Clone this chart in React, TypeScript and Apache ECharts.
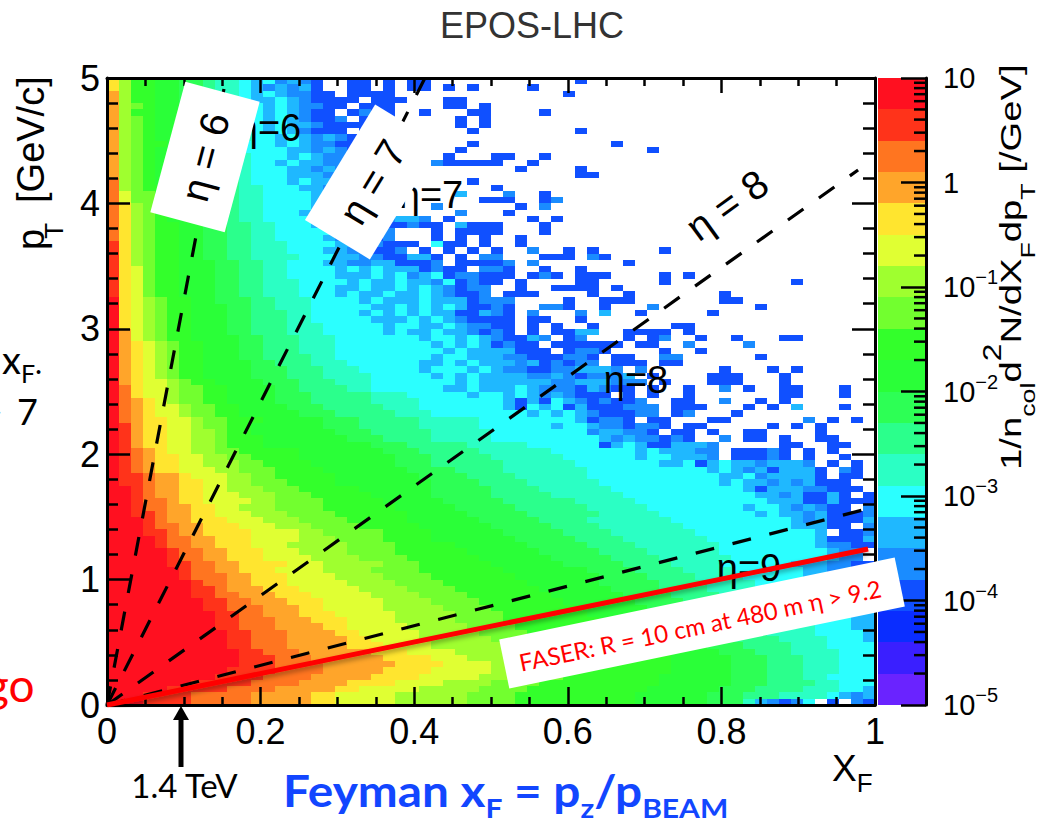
import React, { useEffect, useRef } from "react";
import * as echarts from "echarts";

// Colour-band palette, lowest band (a) to highest band (t); each band spans 0.3 decades.
const LEVELS = "abcdefghijklmnopqrst";
const LEVEL_COLORS = ["#6a23ff","#3a1fff","#0a2dff","#1050ff","#1a8cff","#1fb8ff","#2bffff","#2bffc4","#2bff8c","#2dff55","#2aff38","#33ff2b","#72ff2f","#9fff2f","#e0ff33","#ffe52f","#ffa52a","#ff7520","#ff331a","#ff1020"];

// Histogram, top row (pT just below 5) to bottom row; one letter per xF bin, "." = empty bin.
const HIST_ROWS = [
"pnllkkjj ihhgfgef ed..dd.d .dd..... .......d",
"pnllkkjj ihhgfefe fd..dd.d .dd.d.d. ...d....",
"qnllkkjj ihhgfgfe edd.dddd ........ ......d.",
"qnllkkjj ihhgffgf edddd.dd d...dd..",
"qnmlkkjj ihhggfgf eedd.ddd ....dd.d",
"qnllkkjj ihhggfgf edd.dedd ..d...dd ....d...",
"qnmlkkjj iihggfgf edde.ddd .....d.d",
"qnmlkkjj ihhggfgf fedddd.d .....d.d",
"qnmlkkjj iihggfgf eddd.dd. ......d. .......d",
"qnmlkkjj iihhggfg fefedd.d",
"qnmllkjj iihgggfg feeddddd ......d. ........ ..d.....",
"qnmlkkjj iihggggf fefedd.d .....d.. ........ .....d..",
"qnmlkkjj iihhgggf gfeedddd ....d... dd..d...",
"qnmlkkjj iihhggfg ffeedd.d ...edddd d..d....",
"qnmlkkjj iihhgggf fefeeddd ........ ..d....d",
"qnmlkkkj jiihgggf ffeeddd. d....... .......d d.......",
"rnmlkkkj jiihgggf gffeddd. ......d.",
"rnmllkkj jiihhggg ffeedddd ........ d.......",
"rommllkj jiihhggg gffeeddd .....f.. .e..d...",
"rommlkkj jiihhggg gffeeddd .......d dd..de..",
"rpnmlkkj jiihhggg gfefddd. ...e.... ..d.e...",
"rpnmlkkj jiihhggg ffeeddde .....e.. .d......",
"rpnmlkkj jiihhggg gfeeefde ffe.d... ...d.d..",
"rpnmllkk jjiihhgg gfefdeed dedd.fdd d...d...",
"rpnmllkk jjiihhgg gggfedde ...d.ddd d...d...",
"rpnmllkk jjiihhgg ggfefede ...d.d.d ..d.....",
"spnmllkk jjiihhhg gggffeed dd.gdd.d ..d.....",
"spnmllkk jjiihhhg ggffeedd e.d.d.d. d..e..d. d.....d.",
"spnmllkk jjiihhhh gggffeed dffd.d.e e...ddd. ed......",
"spnmllkk kjjiihhg ggffeeff ddde.ddd de.e.... ...d....",
"spomllkk kjjiihhg gggfgfgf ffdedd.e ed..d..d",
"spomllkk kjjiihhg gggfffgf gefgdeed dd.ded.d dd....d. d.......",
"spomllkk kjjiihhh ggggfgff gffegded d.d....d d.....d. ........ .d......",
"spomllkk kjjiihhh gggffgff gfgfedee ..d..ddd d.d.....",
"spomllkk kjjiihhh gggfgffg ffgfedde .ddd.... d..d.... ...d....",
"tponmllk kjjjiihh hggggfgf ffgfffde ee....d. .ddd.... ...dd...",
"tponmllk kkjjiihh hgggggff gfgfgfdd ed..eed. .d...e.. ......d.",
"tponmllk kkjjiiih hggggfgf gfgffddf ed.e...e .f..d... ..d.....",
"tponmllk kkjjiiih hgggggff fgfgfedd dd.dd..d",
"tponmllk kkjjiiih hhgggggf ggffgfee dd.d.d.. d......d d.......",
"tqonmllk kkjjiiih hhgggggf gffgffed ed.d.ddf f..dddd. d.......",
"tqonmllk kkkjjiii hhhggggg ggfggfgf eddfe.de ...d.de. .d..d... dd......",
"tqponmll kkkjjiii hhhggggg gggfgfgf dedd.ddd ddd.dd.. e....e..",
"tqponmll kkkjjiii hhhggggg ggggfgff ffddd.de ed....d. .d......",
"tqponmll kkkjjiii ihhggggg gggfggff feedddee d.dd..ee ......d.",
"tqponmll kkkkjjii ihhhgggg ggffgfgf ffefdede e.ddd.dd",
"tqponmll kkkkjjji iihhhggg ggfgggfg feeddeef ffe.e... ...d...d .d......",
"tqponmll kkkkjjji iihhhhgg gggfgfgf fffeefed eeef.d.. ..ddd... d.......",
"tqpoonml lkkkkjjj iiihhhgg gggggfgf fffffeef ffeee.d. ..ddd... d.......",
"trpoonmm llkkkkjj iiiihhgg ggggffgf ffgfeeed fedd.d.. d..e.d.. dd...d..",
"trpoonmm llkkkkjj jiiiiihh hgggggfg gfgfefed dd.d.d.. d....... dd...d..",
"trqponmm llkkkkjj jiiiiihh hhgggggg gfdfdgfe dedde..d d..e..d. d.......",
"trqpoonm mllkkkkj jjiiiiih hhgggggg gfdgfgdf dddeee.d dd...d.d .f...d..",
"trqpoonm mllkkkkk jjjiiiii hhhggggg gggfgfgf edddee.d e...d...",
"trqppoon mmlllkkk kkjjjiii iihhhhhg gggggggf deed.dd. ..dd.... ..e.d.d.",
"tsqppoon mmllkkkk kkjjjiii iihhhhhg gggggfgg feedeed. dd.....d .d.d....",
"tsqppoon nmllkkkk kkkjjjii iiihhhhh gggggggg effeed.d d.d..dd. ...d....",
"tsqppoon nmlllkkk kkkkjjji iiihhhhh gggggggg gfefeede d..e.dd. d..dd...",
"tsqppoon nmlllkkk kkkkkkjj jiiiiihh hhhggggg gdfgfddf ffe..... dd..dd..",
"tsrqpoon nmmlllll kkkkkkkj jjiiiiih hhhhhggg ggggfgff fee.ddde d.d.d...",
"tsrqppoo nnmmllll kkkkkkkk jjjiiiii hhhhhhgg ggggfggf ffe.ddde d.d..d..",
"tsrqppoo nnnmmlll lkkkkkkk jjjiiiii ihhhhhhg ggggggff gdfgffef ffe.d.d.",
"tsrqppoo onnmmmll llkkkkkk kjjjjiii ihhhhhhh gggggggg ggfgfefd fffd.ed.",
"tssrqqpo oonnmmll lllkkkkk kkjjjjii iihhhhhh gggggggg gggffgef fffd.dd.",
"tssrqqpp oonnmmml lllkkkkk kkkjjjji iiihhhhh hggggggg gggfgffe fefddd..",
"ttsrqqpp oonnnmmm lllllkkk kkkjjjjj iiiihhhh hhgggggg gggggfdf ffeeddd.",
"ttsrqqpp ooonnnmm mlllllkk kkkjjjjj iiiiihhh hhhggggg ggggggff efddfd.d",
"ttsrrqpp oooonnmm mmlllllk kkkkjjjj jiiiiiih hhhhgggg gggggggf ffddfddd",
"ttsrrqqp poonnnmm mmllllll kkkkkjjj jjiiiiii hhhhhggg gggggfgg fefedd.e",
"ttssrqqp pooonnnm mmmlllll lkkkkkjj jjjiiiii ihhhhhgg ggggggfg ffefddde",
"tttsrqqp ppooonnn mmmmllll lkkkkkkj jjjjiiii hhhhhhhg gggggggg gfefdddf",
"tttsrrqq pppooonn nmmmmlll llkkkkkk jjjjjiii ihhhhhhh gggggggg gfffdd.e",
"tttssrqq ppppoooo nnmmmmml lllkkkkk kjjjjjii iihhhhhh hggggggg gggf.dde",
"ttttsrrq qpppoooo nnnmmmml lllkkkkk kkjjjjji iiihhhhh hhgggggg gggfdddf",
"ttttsrrq qpppooon nnnnmmmm lllllkkk kkkjjjjj iiiihhhh hhhggggg gggfeedd",
"tttttsrr qqpppooo nnnnmmmm llllllkk kkkkjjjj jiiiihhh hhhggggg ggggfee.",
"tttttsrr qqpppooo onnnnmmm mllllllk kkkkkjjj jjiiiihh hhhhgggg ggggfee.",
"tttttssr rqqppppo oonnnnnm mmllllll kkkkkkjj jjjiiiih hhhggggg gfffeedd",
"ttttttsr rqqpppoo oonnnnmm mmllllll lkkkkkkk jjjjiiii hhhhgggg ggffeedd",
"ttttttsr rrqqpppo ooonnnnm mmmlllll llkkkkkk kjjjjiii ihhhhggg ggffeedd",
"ttttttts rrqqpppo oooonnnn mmmmllll lllkkkkk kjjjjjii iihhhhgg gggffeed",
"ttttttts srqqqppp ooooonnn nmmmmlll llllkkkk kkjjjjii iihhhhgg ggggfeed",
"ttttttts srrqqqpp pooooonn nnmmmmll lllllkkk kkkjjjji iiihhhhg ggggffee",
"tttttttt ssrrqqqp ppooooon nnnmmmml llllllkk kkkkjjjj iiiihhhh gggggffe",
"tttttttt ssrrrqqq ppooooon nnnnmmmm lllllllk kkkkkjjj jiiiihhh hggggffe",
"tttttttt tssrrqqq pppooooo nnnnnmmm mlllllll kkkkkkjj jjiiiihh hhggggff",
"tttttttt tssrrrqq qpppoooo nnnnnmmm mlllllll lkkkkkjj jjiiiihh hhggggff",
"tttttttt tssrrrqq qqppoooo onnnnnmm mmllllll llkkkkkj jjjiiiih hhhgggff",
"tttttttt ttssrrrq qqqppooo oonnnnnm mmmlllll lllkkkkk jjjiiiih hhhggggf",
"tttttttt ttssrrrq qqqqppoo oonnnnnn mmmmllll lllllkkk kjjjiiii hhhhgggf",
"tttttttt ttssrrrq qqqqpppo ooonnnnn nmmmmlll llllllkk kkjjjiii ihhhgggg",
"tttttttt tttssrrr qqqqqqpp poooonnn nnmmmlll llllllkk kkkjjjii ihhhhggg",
"tttttttt tttsssrr rqqqqqqp pppooonn nnnmmmll lllllllk kkkkjjji iihhhggg",
"tttttttt tttsssrr rrqqqqqq ppppoooo nnnmmmll lllllllk kkkkjjji iihhhggg",
"tttttttt ttssssrr rrqqqqqp pppooooo nnnmmmll lllllllk kkkkjjji iihhhggg",
"tttttttt tssssrrr rqqqqqpp ppooooon nnnmmmll llllllkk kkkkjjji iihhgggg",
"ttttttts ssssrrrr qqqqpppp oooonnnn mmmmllll llllllkk kkkkjjji iiihhggg",
"tttttsss ssrrrrqq qqqppooo oonnnnnm mmmlllll lllllkkk kkkjjjii iihhhggf",
"tttssssr rrrrqqqq qppooooo nnnnnnmm mmllllll llllkkkk kkjjjiii hhhhgfef",
"tttssssr rrrrqqqq qppooooo nnnnnnmm mmllllll llllkkkk kkjjjhfe deg.d.ed",
];

const N_COLS = 64;
const N_ROWS = 100;
const X_MAX = 1;
const Y_MAX = 5;

const ETA_6 = [[0, 0], [0.155, 5]];
const ETA_7 = [[0, 0], [0.414, 5]];
const ETA_8 = [[0, 0], [0.978, 4.266]];
const ETA_9 = [[0, 0], [1, 1.58]];
const FASER = [[0, 0], [0.991, 1.244]];

const BAR_DECADES = [-5, -4, -3, -2, -1, 0];
const BAR_MULTIPLES = [2, 3, 4, 5, 6, 7, 8, 9];

const HELV = '"Liberation Sans", Arial, sans-serif';
const SLIDE = 'Lato, "Noto Sans", sans-serif';

const cellW = X_MAX / N_COLS;
const cellH = Y_MAX / N_ROWS;

const histData: number[][] = [];
HIST_ROWS.forEach((row, r) => {
  const cells = row.replace(/ /g, "").padEnd(N_COLS, ".");
  for (let c = 0; c < N_COLS; c++) {
    const lvl = LEVELS.indexOf(cells[c]);
    if (lvl >= 0) histData.push([c * cellW, (HIST_ROWS.length - 1 - r) * cellH, lvl]);
  }
});

const barData = LEVEL_COLORS.map((_, i) => [-5 + 0.3 * i, i]);
const minorData: number[][] = [];
BAR_DECADES.forEach((d) => BAR_MULTIPLES.forEach((m) => minorData.push([d + Math.log10(m)])));

const ctx = document.createElement("canvas").getContext("2d")!;
type Piece = { t: string; size: number; dy?: number; dx?: number };
function flow(x: number, y: number, rotation: number, pieces: Piece[], fill: string, family: string, weight: string, z: number, scaleX = 1) {
  let cursor = 0;
  const children = pieces.map((p) => {
    ctx.font = `${weight} ${p.size}px ${family}`;
    cursor += p.dx || 0;
    const el = {
      type: "text", x: cursor, y: (p.dy || 0) - 0.3465 * p.size, z,
      style: { text: p.t, fontSize: p.size, fontFamily: family, fontWeight: weight, fill, align: "left", verticalAlign: "middle" },
    };
    cursor += ctx.measureText(p.t).width;
    return el;
  });
  return { type: "group", x, y, rotation, scaleX, z, children };
}
function box(cx: number, cy: number, w: number, h: number, deg: number) {
  return { type: "rect", x: cx, y: cy, rotation: (deg * Math.PI) / 180, z: 20, shape: { x: -w / 2, y: -h / 2, width: w, height: h }, style: { fill: "#fff" } };
}
function label(text: string, cx: number, cy: number, deg: number, size: number, z: number, fill = "#000", family = HELV, scaleX = 1) {
  return { type: "text", x: cx, y: cy, scaleX, rotation: (deg * Math.PI) / 180, z, style: { text, fontSize: size, fontFamily: family, fill, align: "center", verticalAlign: "middle" } };
}

function tickAxis(extra: any, major: number, minor: number, splits: number) {
  return {
    type: "value", z: 3, splitLine: { show: false },
    axisLine: { show: true, onZero: false, lineStyle: { color: "#000", width: 3 } },
    axisTick: { show: true, inside: true, length: major, lineStyle: { color: "#000", width: 2.5 } },
    minorTick: { show: true, splitNumber: splits, length: minor, lineStyle: { color: "#000", width: 2.5 } },
    ...extra,
  };
}

const dashed = (name: string, data: number[][]) => ({
  type: "line", name, data, z: 4, symbol: "none", silent: true, xAxisIndex: 0, yAxisIndex: 0,
  lineStyle: { color: "#000", width: 3.2, type: [19, 19] as any },
});

export default function App() {
  const ref = useRef<HTMLDivElement>(null);
  useEffect(() => {
    const chart = echarts.init(ref.current!, undefined, { renderer: "svg" });
    chart.setOption({
      animation: false,
      backgroundColor: "#fff",
      grid: [
        { left: 107, top: 78, width: 768, height: 627 },
        { left: 878, top: 78, width: 48, height: 627 },
      ],
      xAxis: [
        tickAxis({ gridIndex: 0, position: "bottom", min: 0, max: X_MAX, interval: 0.2,
          axisLabel: { show: true, fontSize: 36, fontFamily: HELV, color: "#000", margin: 8 } }, 18, 8, 4),
        tickAxis({ gridIndex: 0, position: "top", min: 0, max: X_MAX, interval: 0.2, axisLabel: { show: false } }, 15, 8, 4),
        { type: "value", gridIndex: 1, min: 0, max: 1, show: false },
      ],
      yAxis: [
        tickAxis({ gridIndex: 0, position: "left", min: 0, max: Y_MAX, interval: 1,
          axisLabel: { show: true, fontSize: 36, fontFamily: HELV, color: "#000", margin: 7 } }, 23, 11, 5),
        tickAxis({ gridIndex: 0, position: "right", min: 0, max: Y_MAX, interval: 1, axisLabel: { show: false } }, 23, 12, 5),
        {
          type: "value", gridIndex: 1, position: "right", min: -5, max: 1, interval: 1, z: 3,
          splitLine: { show: false },
          axisLine: { show: true, onZero: false, lineStyle: { color: "#000", width: 3 } },
          axisTick: { show: true, inside: true, length: 25, lineStyle: { color: "#000", width: 2.5 } },
          axisLabel: {
            show: true, margin: 17, align: "left",
            formatter: (v: number) => (v === 1 ? "{a|10}" : v === 0 ? "{a|1}" : `{a|10}{b|\u2212${-v}}`),
            rich: {
              a: { fontSize: 29, fontFamily: HELV, color: "#000", height: 40, lineHeight: 40, verticalAlign: "bottom", padding: [12, 0, 0, 0] },
              b: { fontSize: 20, fontFamily: HELV, color: "#000", verticalAlign: "top", padding: [0, 0, 0, 0] },
            },
          },
        },
      ],
      series: [
        {
          type: "custom", data: histData, xAxisIndex: 0, yAxisIndex: 0, z: 1, silent: true,
          encode: { x: 0, y: 1 },
          renderItem: (_: any, api: any) => {
            const x = api.value(0), y = api.value(1);
            const a = api.coord([x, y]), b = api.coord([x + cellW, y + cellH]);
            const l = Math.round(a[0]), r = Math.round(b[0]), t = Math.round(b[1]), d = Math.round(a[1]);
            return { type: "rect", shape: { x: l, y: t, width: r - l, height: d - t }, style: { fill: LEVEL_COLORS[api.value(2)] } };
          },
        },
        {
          type: "custom", data: barData, xAxisIndex: 2, yAxisIndex: 2, z: 1, silent: true,
          encode: { y: 0 },
          renderItem: (_: any, api: any) => {
            const v = api.value(0);
            const a = api.coord([0, v]), b = api.coord([1, v + 0.3]);
            const t = Math.round(b[1]), d = Math.round(a[1]);
            return { type: "rect", shape: { x: a[0], y: t, width: b[0] - a[0], height: d - t }, style: { fill: LEVEL_COLORS[api.value(1)] } };
          },
        },
        {
          type: "custom", data: minorData, xAxisIndex: 2, yAxisIndex: 2, z: 3, silent: true,
          encode: { y: 0 },
          renderItem: (_: any, api: any) => {
            const p = api.coord([1, api.value(0)]);
            return { type: "line", shape: { x1: p[0] - 12, y1: p[1], x2: p[0], y2: p[1] }, style: { stroke: "#000", lineWidth: 2.5 } };
          },
        },
        dashed("eta6", ETA_6), dashed("eta7", ETA_7), dashed("eta8", ETA_8), dashed("eta9", ETA_9),
        {
          type: "line", name: "FASER", data: FASER, z: 6, symbol: "none", silent: true, xAxisIndex: 0, yAxisIndex: 0,
          lineStyle: { color: "#ff0000", width: 5, shadowColor: "rgba(0,0,0,0.35)", shadowBlur: 5, shadowOffsetY: 3 },
        },
      ],
      graphic: {
        elements: [
          label("EPOS-LHC", 532, 25, 0, 36, 10, "#333"),
          label("\u03b7=6", 269, 128, 0, 38, 5),
          label("\u03b7=7", 431, 195, 0, 38, 5),
          label("\u03b7=8", 636, 380, 0, 38, 5),
          label("\u03b7=9", 749, 568, 0, 38, 5),
          box(205, 157, 135, 77, 75),
          label("\u03b7 = 6", 205, 157, 75, 40, 21),
          box(372.5, 182, 135, 76, 58.7),
          label("\u03b7 = 7", 372.5, 182, 58.7, 40, 21),
          label("\u03b7 = 8", 727, 205, 36, 40, 21),
          box(702, 623, 404, 50, 11.7),
          label("FASER: R = 10 cm at 480 m \u03b7 > 9.2", 700, 625, 11.7, 24, 21, "#ff0000", SLIDE),
          flow(44, 250, Math.PI / 2, [{ t: "p", size: 38 }, { t: "T", size: 26, dy: 19, dx: -10 }, { t: "[GeV/c]", size: 38, dx: 20 }], "#000", HELV, "normal", 10),
          flow(832, 781, 0, [{ t: "X", size: 37 }, { t: "F", size: 26, dy: 11 }], "#000", HELV, "normal", 10),
          flow(1021, 470, Math.PI / 2, [
            { t: "1/n", size: 30 }, { t: "col", size: 21, dy: 14 }, { t: "d", size: 30 }, { t: "2", size: 25, dy: -20 },
            { t: "N/dX", size: 30 }, { t: "F", size: 21, dy: 14 }, { t: "dp", size: 30 }, { t: "T", size: 21, dy: 14 }, { t: " [/GeV]", size: 30 },
          ], "#000", HELV, "normal", 10, 1.275),
          { type: "line", z: 10, shape: { x1: 181, y1: 767, x2: 181, y2: 716 }, style: { stroke: "#000", lineWidth: 5 } },
          { type: "polygon", z: 10, shape: { points: [[181, 706], [173, 720], [189, 720]] }, style: { fill: "#000" } },
          label("1.4 TeV", 184.5, 785, 0, 33, 10, "#000", SLIDE),
          flow(283, 805, 0, [
            { t: "Feyman x", size: 43 }, { t: "F", size: 27, dy: 12 }, { t: " = p", size: 43 }, { t: "z", size: 27, dy: 12 },
            { t: "/p", size: 43 }, { t: "BEAM", size: 27, dy: 12 },
          ], "#1246ff", SLIDE, "bold", 10, 1.11),
          flow(2, 372, 0, [{ t: "x", size: 38 }, { t: "F", size: 25, dy: 10 }, { t: ".", size: 30 }], "#000", SLIDE, "normal", 10),
          flow(-18, 423, 0, [{ t: ">", size: 36 }, { t: "7", size: 36, dx: 14 }], "#000", SLIDE, "normal", 10),
          flow(-15, 700, 0, [{ t: "go", size: 46 }], "#ff0000", SLIDE, "normal", 10),
        ],
      },
    });
    return () => chart.dispose();
  }, []);
  return <div ref={ref} style={{ position: "absolute", left: 0, top: 0, width: 1040, height: 822, background: "#fff" }} />;
}
